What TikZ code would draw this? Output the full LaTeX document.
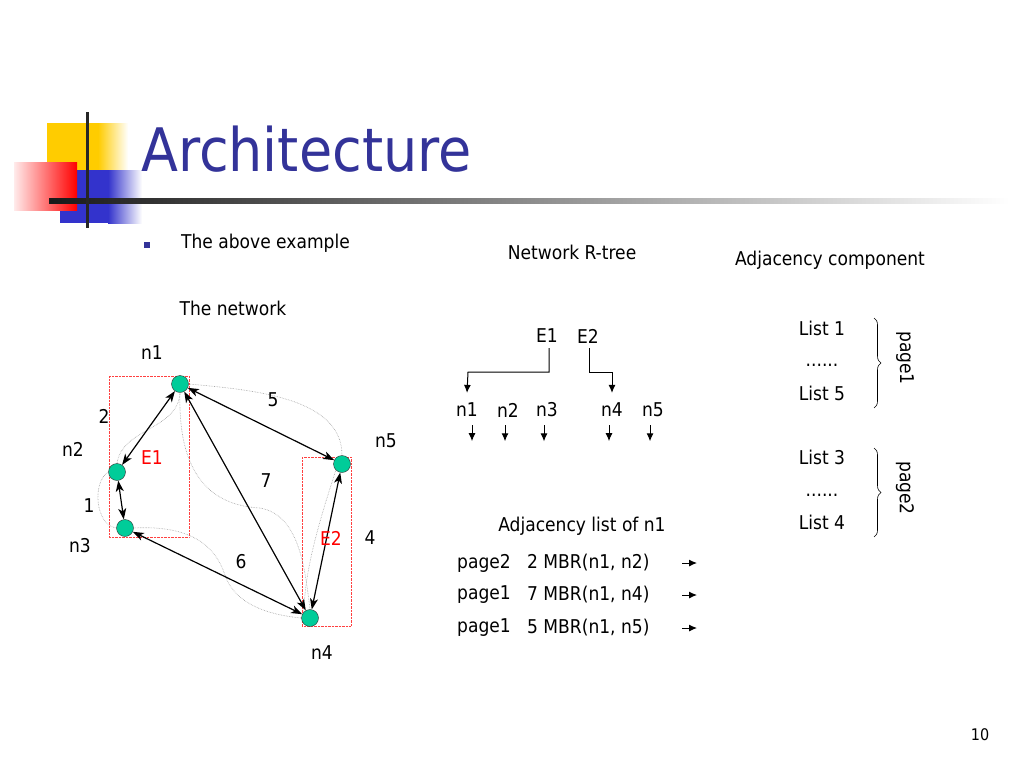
\documentclass[tikz,border=0pt]{standalone}
\usepackage{fontspec}
\setmainfont{DejaVu Sans Condensed}
\usepackage{tikz}
\usetikzlibrary{arrows.meta,positioning,decorations.pathreplacing}
\definecolor{titleblue}{RGB}{51,51,153}
\definecolor{nodegreen}{RGB}{0,204,153}
\definecolor{logoyellow}{RGB}{255,204,0}
\definecolor{logoblue}{RGB}{51,51,204}
\tikzset{
	txt/.style={font=\fontsize{19}{22}\selectfont, inner sep=0pt},
	vertex/.style={circle, draw=black!80, fill=nodegreen, minimum size=17pt, inner sep=0pt},
	road/.style={gray!75, densely dotted, line width=0.6pt},
	link/.style={{Stealth[length=11pt,width=8pt,inset=3pt]}-{Stealth[length=11pt,width=8pt,inset=3pt]}, line width=1.2pt},
	mbr/.style={red!75, densely dotted, thin},
	brace/.style={decorate, decoration={brace, amplitude=7pt}, line width=0.6pt},
	ptr/.style={->, line width=1pt},
}

\begin{document}
\begin{tikzpicture}[x=1pt, y=-1pt, >={Latex[length=8pt,width=7pt]}]
%		\draw [help lines, step=50] (0,0) grid (1024,768);
		\useasboundingbox (0,0) rectangle (1024,768);
		% logo
		\fill [logoyellow] (47,123) rectangle (98,175);
		\shade [left color=logoyellow, right color=white] (98,123) rectangle (128,175);
		\fill [logoblue] (60,170) rectangle (108,223);
		\shade [left color=logoblue, right color=white] (108,170) rectangle (142,223);
		\shade [left color=red!8, right color=red] (14,162) rectangle (77,210);
		\shade [left color=black!90, right color=white] (49,198) rectangle (1010,203);
		\fill [black!85] (85.5,112) rectangle (89,228);
		\node [font=\fontsize{60}{66}\selectfont, text=titleblue, inner sep=0pt, anchor=base west] (title) at (141,171) {Architecture};
		% captions
		\fill [titleblue] (144,242) rectangle (150,248);
		\node [txt, anchor=west] (intro) at (181,243) {The above example};
		\node [txt] (netcap) at (233,308) {The network};
		\node [txt] (treecap) at (572,252) {Network R-tree};
		\node [txt] (adjcap) at (830,260) {Adjacency component};
		% network
		\draw [mbr] (109,376) rectangle (189,537);
		\draw [mbr] (302,457) rectangle (351,626);
		\node [vertex] (v1) at (180,384) {};
		\node [vertex] (v2) at (117,472) {};
		\node [vertex] (v3) at (125,528) {};
		\node [vertex] (v4) at (310,618) {};
		\node [vertex] (v5) at (342,464) {};
		\draw [road] (v1.south) .. controls (178,430) and (122,428) .. (v2.north);
		\draw [road] (v2.west) .. controls (92,482) and (95,525) .. (v3.west);
		\draw [road] (v1.south) .. controls (178,460) and (200,505) .. (260,508) .. controls (300,515) and (305,570) .. (v4.north);
		\draw [road] (v3.east) .. controls (190,525) and (215,545) .. (225,575) .. controls (235,605) and (270,615) .. (v4.west);
		\draw [road] (v1.east) .. controls (255,390) and (342,398) .. (v5.north);
		\draw [road] (v4.north west) .. controls (305,570) and (318,525) .. (v5.south west);
		\draw [link] (v1) -- (v2);
		\draw [link] (v2) -- (v3);
		\draw [link] (v1) -- (v5);
		\draw [link] (v1) -- (v4);
		\draw [link] (v3) -- (v4);
		\draw [link] (v4) -- (v5);
		\node [txt] (n1) at (152,353) {n1};
		\node [txt] (n2) at (73,449) {n2};
		\node [txt] (n3) at (80,546) {n3};
		\node [txt] (n4) at (322,653) {n4};
		\node [txt] (n5) at (386,441) {n5};
		\node [txt] (w2) at (104,416) {2};
		\node [txt] (w1) at (89,506) {1};
		\node [txt] (w5) at (273,400) {5};
		\node [txt] (w7) at (266,481) {7};
		\node [txt] (w6) at (241,562) {6};
		\node [txt] (w4) at (370,538) {4};
		\node [txt, text=red] (e1) at (152,458) {E1};
		\node [txt, text=red] (e2) at (331,538) {E2};
		% R-tree
		\node [txt] (t1) at (547,336) {E1};
		\node [txt] (t2) at (588,336) {E2};
		\node [txt] (r1) at (467,410) {n1};
		\node [txt] (r2) at (508,410) {n2};
		\node [txt] (r3) at (547,410) {n3};
		\node [txt] (r4) at (612,410) {n4};
		\node [txt] (r5) at (653,410) {n5};
		\coordinate (j1) at (468,372);
		\coordinate (j2) at (612,372);
		\draw [ptr] ([xshift=2pt, yshift=-5pt]t1.south) |- (j1) -- ([yshift=10pt]r1.north);
		\draw [ptr] ([xshift=1pt, yshift=-5pt]t2.south) |- (j2) -- ([yshift=10pt]r4.north);
		\foreach \r/\dx in {r1/5, r2/-3, r3/-3, r4/-3, r5/-3}
			\draw [ptr] ([xshift=\dx pt, yshift=-8pt]\r.south) -- ++(0,16);
		% adjacency list
		\node [txt] (listcap) at (582,526) {Adjacency list of n1};
		\foreach \row/\pg/\w/\nb [count=\i] in {563/page2/2/n2, 595/page1/7/n4, 628/page1/5/n5} {
			\node [txt, anchor=west] (pg\i) at (457,\row) {\pg};
			\node [txt, anchor=west] (ent\i) at (527,\row) {\w\ MBR(n1, \nb)};
			\coordinate (tail\i) at (682,\row);
			\coordinate (head\i) at (697,\row);
			\draw [ptr] (tail\i) -- (head\i);
		}
		% adjacency component
		\node [txt] (l1) at (822,328) {List 1};
		\node [txt] (d1) at (822,365) {......};
		\node [txt] (l5) at (822,393) {List 5};
		\node [txt] (l3) at (822,457) {List 3};
		\node [txt] (d2) at (822,495) {......};
		\node [txt] (l4) at (822,522) {List 4};
		\draw [brace] (874,318) -- (874,408);
		\draw [brace] (874,448) -- (874,537);
		\node [txt, rotate=-90] (p1) at (905,358) {page1};
		\node [txt, rotate=-90] (p2) at (905,488) {page2};
		\node [font=\fontsize{16}{18}\selectfont, inner sep=0pt] (num) at (980,735) {10};
	\end{tikzpicture}
\end{document}
